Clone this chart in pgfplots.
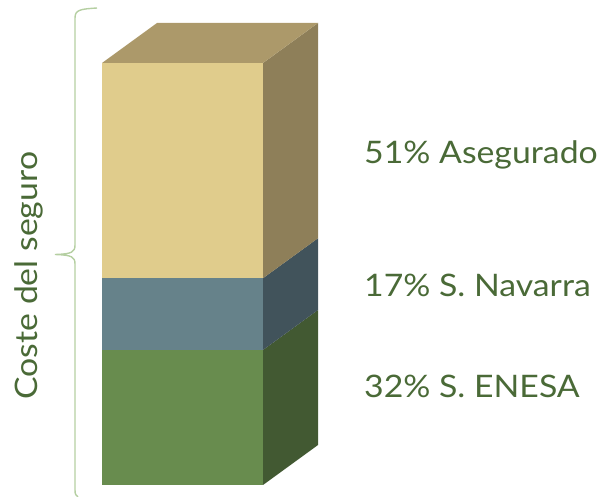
\documentclass[border=0pt]{standalone}
\usepackage{pgfplots}
\pgfplotsset{compat=1.18}
\usepackage{fontspec}
\setmainfont[FakeStretch=1.09]{Lato}
\definecolor{tanF}{HTML}{E0CC8C}
\definecolor{tanT}{HTML}{AC996A}
\definecolor{tanS}{HTML}{8E7F59}
\definecolor{bluF}{HTML}{66828A}
\definecolor{bluS}{HTML}{41535B}
\definecolor{grnF}{HTML}{688C4E}
\definecolor{grnS}{HTML}{425932}
\definecolor{txt}{HTML}{4A6A37}
\definecolor{brc}{HTML}{B5CFA2}
\begin{document}
\begin{tikzpicture}
\begin{axis}[scale only axis, width=607bp, height=497bp,
  xmin=0, xmax=607, ymin=-2.844, ymax=114.929, hide axis, clip=false]
\coordinate (bl) at (rel axis cs:0,0);
\coordinate (tr) at (rel axis cs:1,1);
% front faces (cumulative: 32, 49, 100)
\addplot[fill=grnF, draw=none] coordinates {(102,0) (263,0) (263,32) (102,32)};
\addplot[fill=bluF, draw=none] coordinates {(102,32) (263,32) (263,49) (102,49)};
\addplot[fill=tanF, draw=none] coordinates {(102,49) (263,49) (263,100) (102,100)};
% side faces
\addplot[fill=grnS, draw=none] coordinates {(263,0) (318,9.479) (318,41.479) (263,32)};
\addplot[fill=bluS, draw=none] coordinates {(263,32) (318,41.479) (318,58.479) (263,49)};
\addplot[fill=tanS, draw=none] coordinates {(263,49) (318,58.479) (318,109.479) (263,100)};
% top face
\addplot[fill=tanT, draw=none] coordinates {(102,100) (263,100) (318,109.479) (157,109.479)};
% brace
\draw[brc, line width=1.4bp]
  (axis cs:97,113.03) .. controls (axis cs:80,112.80) and (axis cs:75,112.56) .. (axis cs:75,110.66)
  -- (axis cs:75,56.87) .. controls (axis cs:75,55.21) and (axis cs:72,54.74) .. (axis cs:55,54.62)
  .. controls (axis cs:72,54.50) and (axis cs:75,54.03) .. (axis cs:75,52.37)
  -- (axis cs:75,-1.185) .. controls (axis cs:75,-2.2) and (axis cs:76,-2.6) .. (axis cs:78,-2.844);
% labels
\node[anchor=base west, txt, font=\fontsize{31bp}{36bp}\selectfont, inner sep=0pt] at (axis cs:364,76.3) {51\% Asegurado};
\node[anchor=base west, txt, font=\fontsize{31bp}{36bp}\selectfont, inner sep=0pt] at (axis cs:364,44.55) {17\% S. Navarra};
\node[anchor=base west, txt, font=\fontsize{31bp}{36bp}\selectfont, inner sep=0pt] at (axis cs:364,20.85) {32\% S. ENESA};
\node[anchor=base, rotate=90, txt, font=\fontsize{31bp}{36bp}\selectfont, inner sep=0pt] at (axis cs:37,49.6) {Coste del seguro};
\end{axis}
\pgfresetboundingbox
\path[use as bounding box] (bl) rectangle (tr);
\end{tikzpicture}
\end{document}
